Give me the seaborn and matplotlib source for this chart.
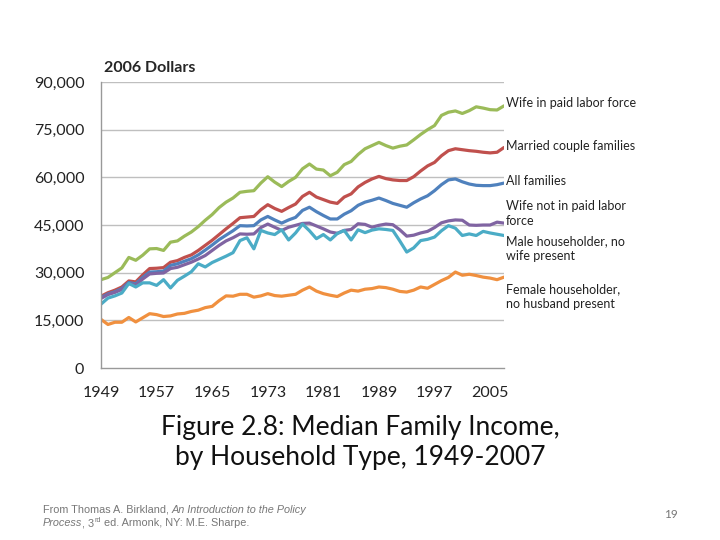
import numpy as np
import pandas as pd
import matplotlib
matplotlib.use("Agg")
import matplotlib.pyplot as plt
import seaborn as sns

# ---- data (2006 dollars) ----
years = list(range(1949, 2008))

wife_paid = [27800, 28500, 30000, 31500, 34800, 33900, 35500, 37500, 37600, 37000,
             39600, 40000, 41500, 42800, 44500, 46500, 48300, 50500, 52200, 53500,
             55300, 55600, 55800, 58200, 60200, 58500, 57100, 58700, 60000, 62700,
             64200, 62600, 62300, 60500, 61600, 64000, 65000, 67200, 69000, 70000,
             71000, 70000, 69200, 69800, 70200, 71800, 73500, 75000, 76300, 79500,
             80500, 80900, 80100, 81000, 82200, 81800, 81300, 81200, 82500]

married = [22600, 23700, 24500, 25500, 27400, 27100, 29300, 31300, 31400, 31600,
           33300, 33800, 34800, 35600, 37000, 38600, 40200, 42000, 43800, 45500,
           47300, 47500, 47700, 49800, 51400, 50200, 49300, 50500, 51600, 54000,
           55300, 53800, 53000, 52200, 51800, 53800, 54800, 57000, 58400, 59500,
           60300, 59600, 59200, 59000, 59000, 60200, 62000, 63600, 64700, 66800,
           68400, 69000, 68700, 68400, 68200, 67900, 67700, 67900, 69400]

all_fam = [22200, 23300, 24000, 25000, 26900, 26500, 28500, 30200, 30300, 30500,
           32300, 32800, 33600, 34400, 35600, 37100, 38700, 40400, 41800, 43200,
           44800, 44700, 44800, 46600, 47700, 46600, 45600, 46600, 47400, 49600,
           50600, 49200, 48000, 46900, 46900, 48400, 49500, 51200, 52200, 52800,
           53500, 52700, 51800, 51200, 50600, 52000, 53200, 54200, 55800, 57700,
           59200, 59500, 58600, 57900, 57500, 57400, 57400, 57700, 58200]

wife_not = [21900, 23100, 23800, 24700, 26600, 26100, 28000, 29600, 29800, 29900,
            31300, 31700, 32500, 33300, 34300, 35400, 37000, 38600, 40000, 41000,
            42200, 42100, 42200, 44200, 45300, 44300, 43300, 44300, 44900, 45500,
            45600, 44700, 43800, 42800, 42400, 43300, 43600, 45400, 45200, 44300,
            44900, 45300, 45100, 43500, 41500, 41800, 42500, 43000, 44200, 45700,
            46300, 46600, 46500, 45000, 44900, 45000, 45000, 45900, 45600]

male_hh = [20100, 22000, 22700, 23600, 26600, 25500, 26800, 26800, 26000, 27800,
           25200, 27600, 28900, 30300, 32800, 31800, 33200, 34200, 35200, 36300,
           40100, 41000, 37500, 43300, 42500, 42000, 43500, 40300, 42500, 45300,
           43200, 40700, 42000, 40300, 42300, 43300, 40300, 43500, 42600, 43400,
           43800, 43600, 43300, 40000, 36500, 37800, 40100, 40500, 41200, 43200,
           44800, 44000, 41700, 42200, 41700, 43000, 42500, 42100, 41700]

female_hh = [15300, 13700, 14400, 14400, 15900, 14500, 15800, 17100, 16800, 16200,
             16400, 17000, 17200, 17800, 18200, 19000, 19400, 21200, 22700, 22600,
             23200, 23200, 22300, 22700, 23400, 22800, 22600, 22900, 23200, 24500,
             25500, 24200, 23400, 22900, 22500, 23600, 24500, 24200, 24800, 25000,
             25500, 25300, 24800, 24100, 23900, 24500, 25500, 25100, 26300, 27500,
             28500, 30200, 29200, 29500, 29100, 28600, 28300, 27800, 28600]

series_names = ["Wife in paid labor force", "Married couple families", "All families",
                "Wife not in paid labor\nforce", "Male householder, no\nwife present",
                "Female householder,\nno husband present"]
series_values = [wife_paid, married, all_fam, wife_not, male_hh, female_hh]
colors = ["#9BBB59", "#C0504D", "#4F81BD", "#8064A2", "#4BACC6", "#F0903F"]
label_y = [83400, 69900, 59000, 48600, 37500, 22400]

y_ticks = [0, 15000, 30000, 45000, 60000, 75000, 90000]
x_ticks = [1949, 1957, 1965, 1973, 1981, 1989, 1997, 2005]

df = pd.DataFrame({
    "year": years * len(series_names),
    "income": sum(series_values, []),
    "type": [n for n in series_names for _ in years],
})

sns.set_style("white")
plt.rcParams["font.family"] = ["Lato", "DejaVu Sans"]

fig = plt.figure(figsize=(7.2, 5.4), dpi=100)
ax = fig.add_axes([0.1403, 0.3185, 0.5597, 0.5296])

# gridlines behind the lines
for yt in y_ticks[1:]:
    ax.axhline(yt, color="#bfbfbf", lw=1, zorder=0)

sns.lineplot(data=df, x="year", y="income", hue="type", hue_order=series_names,
             palette=dict(zip(series_names, colors)), linewidth=2.3, legend=False, ax=ax)

ax.set_xlim(1949, 2007)
ax.set_ylim(0, 90000)
ax.set_xticks(x_ticks)
ax.set_yticks(y_ticks)
ax.set_yticklabels([f"{v:,}" for v in y_ticks])
ax.tick_params(axis="both", labelsize=11.5, colors="#222222")
ax.tick_params(axis="x", direction="out", length=5, width=1, color="#999999", pad=8)
ax.tick_params(axis="y", direction="out", length=4, width=1, color="#bfbfbf", pad=8)
ax.set_xlabel("")
ax.set_ylabel("")
for s in ["top", "right"]:
    ax.spines[s].set_visible(False)
for s in ["left", "bottom"]:
    ax.spines[s].set_color("#999999")
    ax.spines[s].set_linewidth(1)

ax.text(1949.5, 92300, "2006 Dollars", fontsize=11.5, fontweight="bold", va="bottom")

for name, yy, c in zip(series_names, label_y, colors):
    ax.text(2007.3, yy, name, fontsize=9, va="center", ha="left",
            color="#222222", linespacing=1.25, clip_on=False)

fig.text(0.5, 1 - 443 / 540, "Figure 2.8: Median Family Income,\nby Household Type, 1949-2007",
         ha="center", va="center", fontsize=19, linespacing=1.25, color="#111111")

# source note (mixed upright / italic), pieces laid out on a shared baseline
gray = "#777777"
fs = 7.8
foot_font = "Liberation Sans"
renderer = fig.canvas.get_renderer()


def text_run(x0, y0, pieces):
    x = x0
    for txt, style, size, rise in pieces:
        t = fig.text(x, y0 + rise, txt, fontsize=size, color=gray, style=style,
                     family=foot_font, va="baseline", ha="left")
        bb = t.get_window_extent(renderer=renderer)
        x = bb.x1 / fig.bbox.width
    return x


text_run(43 / 720, 1 - 513 / 540, [
    ("From Thomas A. Birkland, ", "normal", fs, 0),
    ("An Introduction to the Policy", "italic", fs, 0),
])
text_run(43 / 720, 1 - 526 / 540, [
    ("Process", "italic", fs, 0),
    (", 3", "normal", fs, 0),
    ("rd", "normal", 5.2, 4 / 540),
    (" ed. Armonk, NY: M.E. Sharpe.", "normal", fs, 0),
])

fig.text(671 / 720, 1 - 514 / 540, "19", fontsize=8.5, color=gray, ha="center", va="center")

fig.savefig("out.png", dpi=100)
